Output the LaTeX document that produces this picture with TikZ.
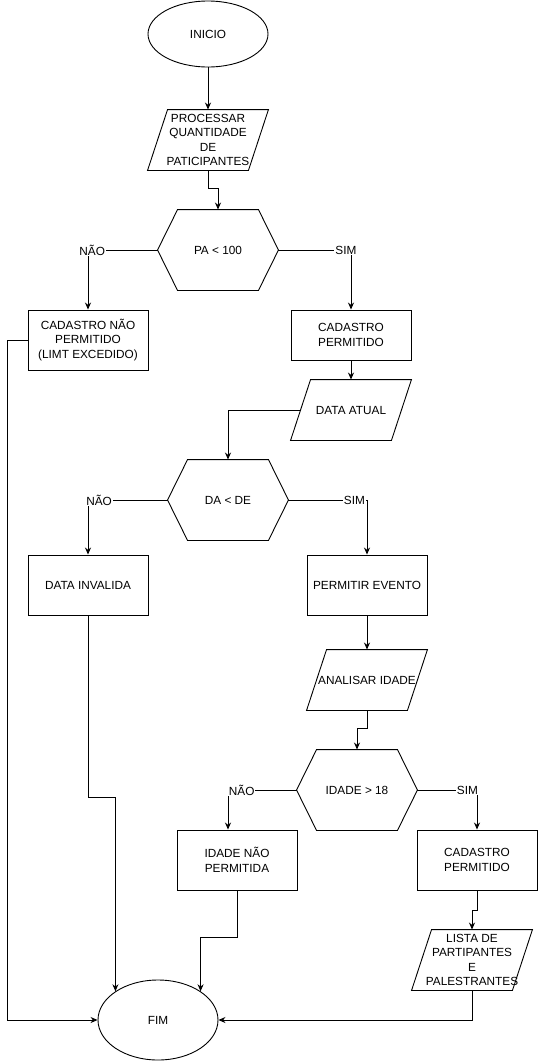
\documentclass[tikz,border=0pt]{standalone}
\usepackage{fontspec}
\setmainfont{Liberation Sans}
\usetikzlibrary{shapes.geometric,arrows.meta}
\begin{document}
\begin{tikzpicture}[x=1pt,y=-1pt,line width=0.9pt,font=\fontsize{11.8}{14.4}\selectfont,
        term/.style={draw,ellipse,minimum width=120,minimum height=66,inner sep=0},
        caixa/.style={draw,minimum width=120,minimum height=60,align=center,inner sep=0},
        forma/.style={minimum width=120,minimum height=60,align=center,inner sep=0},
        hexa/.style={forma,minimum height=80},
        seta/.style={-{Stealth[length=7pt,width=6pt]}},
        rot/.style={fill=white,inner sep=1pt}]
    \useasboundingbox (0,0) rectangle (538,1061);
    \node[term] (inicio) at (208,34) {INICIO};
    \node[forma] (proc) at (208,140) {PROCESSAR\\QUANTIDADE\\DE\\PATICIPANTES};
    \node[hexa] (pa) at (218,250) {PA < 100};
    \node[caixa] (negado) at (88,340) {CADASTRO NÃO\\PERMITIDO\\(LIMT EXCEDIDO)};
    \node[caixa,minimum height=50] (aceito) at (351,335) {CADASTRO\\PERMITIDO};
    \node[forma] (atual) at (351,410) {DATA ATUAL};
    \node[hexa] (dade) at (228,500) {DA < DE};
    \node[caixa] (invalida) at (88,585) {DATA INVALIDA};
    \node[caixa] (evento) at (367,585) {PERMITIR EVENTO};
    \node[forma] (analise) at (367,680) {ANALISAR IDADE};
    \node[hexa] (maior) at (357,790) {IDADE > 18};
    \node[caixa] (recusa) at (237,860) {IDADE NÃO\\PERMITIDA};
    \node[caixa] (aceito2) at (477,860) {CADASTRO\\PERMITIDO};
    \node[forma] (lista) at (472,960) {LISTA DE\\PARTIPANTES\\E\\PALESTRANTES};
    \node[term,minimum height=80] (fim) at (158,1020) {FIM};
    \foreach \n in {proc,atual,analise,lista}
        \draw ([xshift=20]\n.north west) -- (\n.north east) -- ([xshift=-20]\n.south east) -- (\n.south west) -- cycle;
    \foreach \n in {pa,dade,maior}
        \draw ([xshift=20]\n.north west) -- ([xshift=-20]\n.north east) -- (\n.east)
            -- ([xshift=-20]\n.south east) -- ([xshift=20]\n.south west) -- (\n.west) -- cycle;
    \draw[seta] (inicio.south) -- (proc.north);
    \draw[seta] (proc.south) -- ++(0,18) -| (pa.north);
    \draw[seta] (pa.west) -| node[rot,pos=.47]{NÃO} (negado.north);
    \draw[seta] (pa.east) -| node[rot,pos=.465]{SIM} (aceito.north);
    \draw[seta] (aceito.south) -- (atual.north);
    \draw[seta] ([xshift=10]atual.west) -| (dade.north);
    \draw[seta] (dade.west) -| node[rot,pos=.43]{NÃO} (invalida.north);
    \draw[seta] (dade.east) -| node[rot,pos=.42]{SIM} (evento.north);
    \draw[seta] (evento.south) -- (analise.north);
    \draw[seta] (analise.south) -- ++(0,18) -| (maior.north);
    \draw[seta] (maior.west) -| node[rot,pos=.4]{NÃO} ([xshift=-9]recusa.north);
    \draw[seta] (maior.east) -| node[rot,pos=.42]{SIM} (aceito2.north);
    \draw[seta] (aceito2.south) -- ++(0,20) -| (lista.north);
    \draw[seta] (lista.south) |- (fim.east);
    \draw[seta] (recusa.south) -- ++(0,47) -| (fim.34);
    \draw[seta] (invalida.south) -- ++(0,182) -| (fim.146);
    \draw[seta] (negado.west) -- ++(-20,0) |- (fim.west);
\end{tikzpicture}
\end{document}
